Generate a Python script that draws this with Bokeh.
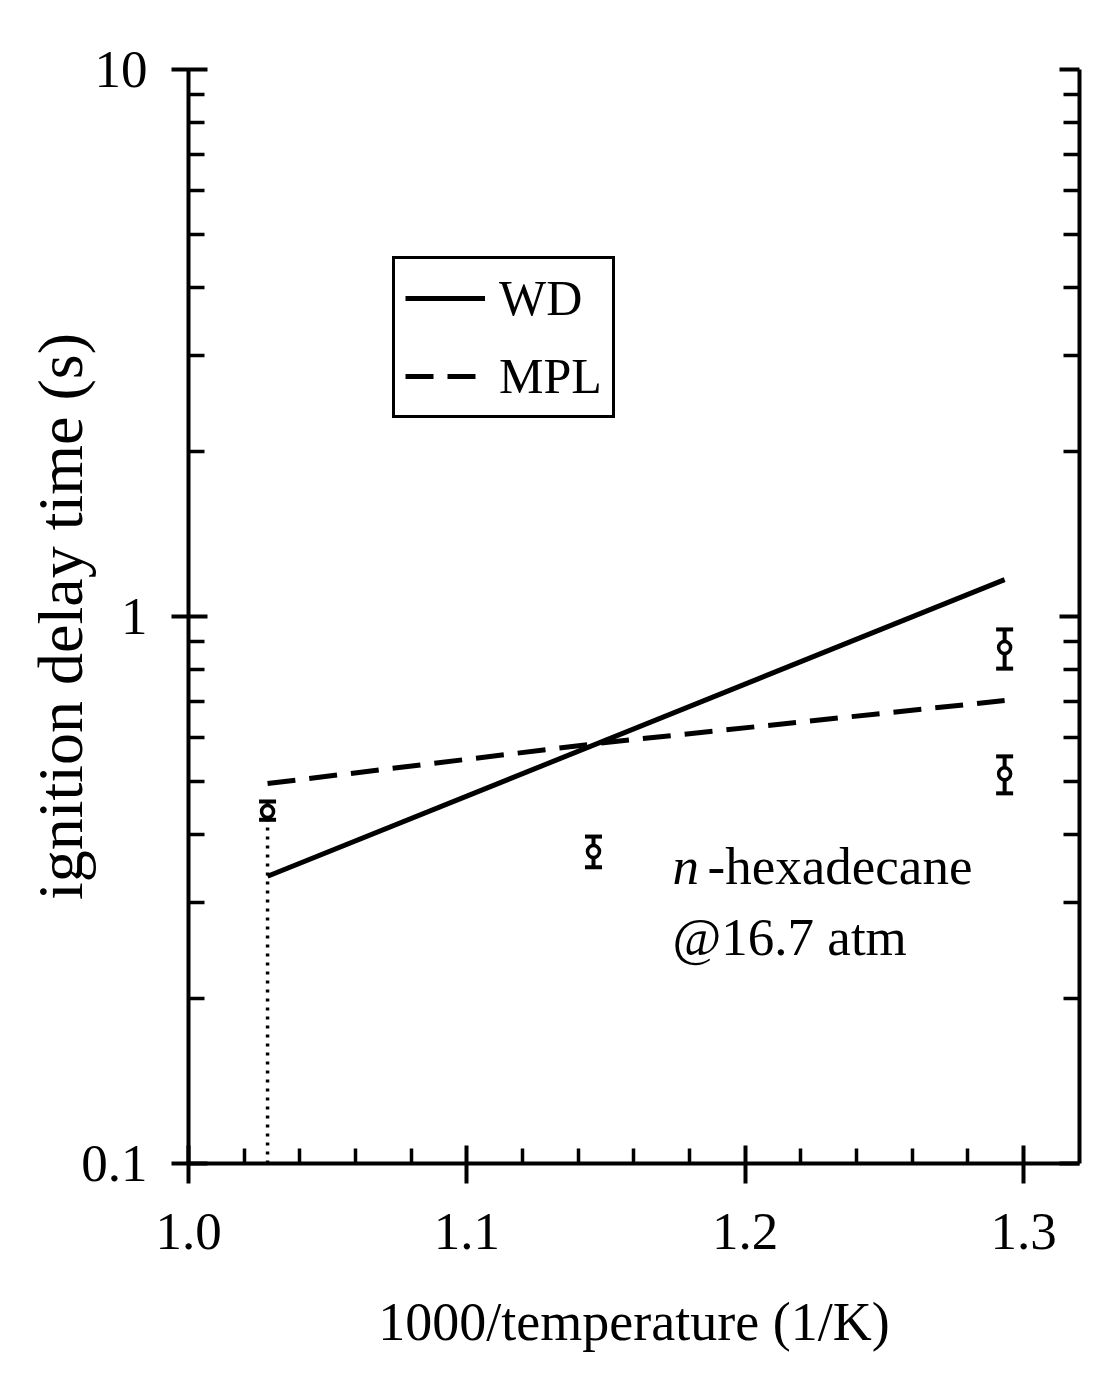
from bokeh.plotting import figure
from bokeh.models import (FixedTicker, LogAxis, CustomJSTickFormatter, Label, Legend,
                          LegendItem, Whisker, TeeHead, ColumnDataSource, Range1d,
                          PrintfTickFormatter)
from bokeh.embed import file_html
from bokeh.resources import INLINE

# ---- data ----
wd_x = [1.0284, 1.2932]
wd_y = [0.335, 1.168]

mpl_x = [1.0284, 1.148, 1.2932]
mpl_y = [0.495, 0.587, 0.702]

exp_x = [1.0284, 1.1455, 1.2932, 1.2932]
exp_y = [0.440, 0.372, 0.878, 0.516]
exp_lo = [0.425, 0.348, 0.803, 0.475]
exp_hi = [0.459, 0.396, 0.947, 0.555]

drop_x = [1.0284, 1.0284]
drop_y = [0.1, 0.425]

x_ticks = [1.0, 1.1, 1.2, 1.3]
x_minor = [1.02, 1.04, 1.06, 1.08, 1.12, 1.14, 1.16, 1.18,
           1.22, 1.24, 1.26, 1.28]
y_ticks = [0.1, 1, 10]
y_minor = [0.2, 0.3, 0.4, 0.5, 0.6, 0.7, 0.8, 0.9,
           2, 3, 4, 5, 6, 7, 8, 9]

FONT = "Liberation Serif"

p = figure(width=1117, height=1383, y_axis_type="log",
           x_range=Range1d(1.0, 1.3201), y_range=Range1d(0.1, 10),
           output_backend="svg", toolbar_location=None,
           min_border_left=188, min_border_right=38,
           min_border_top=69, min_border_bottom=220)
p.outline_line_color = None
p.xgrid.visible = False
p.ygrid.visible = False
p.background_fill_color = "white"
p.border_fill_color = "white"

# bottom axis
xa = p.xaxis[0]
xa.ticker = FixedTicker(ticks=x_ticks, minor_ticks=x_minor)
xa.formatter = PrintfTickFormatter(format="%.1f")
xa.axis_line_width = 4
xa.major_tick_line_width = 4
xa.minor_tick_line_width = 3.5
xa.major_tick_in = 18
xa.major_tick_out = 20
xa.minor_tick_in = 15
xa.minor_tick_out = 0
xa.major_label_text_font = FONT
xa.major_label_text_font_size = "53px"
xa.major_label_text_color = "black"
xa.major_label_standoff = 30
xa.axis_label = "1000/temperature (1/K)"
xa.axis_label_text_font = FONT
xa.axis_label_text_font_size = "54px"
xa.axis_label_text_font_style = "normal"
xa.axis_label_text_color = "black"
xa.axis_label_standoff = 40

# left axis
ya = p.yaxis[0]
ya.ticker = FixedTicker(ticks=y_ticks, minor_ticks=y_minor)
ya.formatter = CustomJSTickFormatter(code="return tick >= 1 ? tick.toFixed(0) : tick.toFixed(1);")
ya.axis_line_width = 4
ya.major_tick_line_width = 4
ya.minor_tick_line_width = 3.5
ya.major_tick_in = 19
ya.major_tick_out = 17
ya.minor_tick_in = 16
ya.minor_tick_out = 0
ya.major_label_text_font = FONT
ya.major_label_text_font_size = "53px"
ya.major_label_text_color = "black"
ya.major_label_standoff = 24
ya.axis_label = "ignition delay time (s)"
ya.axis_label_text_font = FONT
ya.axis_label_text_font_size = "64px"
ya.axis_label_text_font_style = "normal"
ya.axis_label_text_color = "black"
ya.axis_label_standoff = -18

# right axis (ticks only)
ra = LogAxis(ticker=FixedTicker(ticks=y_ticks, minor_ticks=y_minor),
             formatter=CustomJSTickFormatter(code="return '';"))
ra.axis_line_width = 4
ra.major_tick_line_width = 4
ra.minor_tick_line_width = 3.5
ra.major_tick_in = 20
ra.major_tick_out = 0
ra.minor_tick_in = 16
ra.minor_tick_out = 0
ra.major_label_text_font_size = "1px"
p.add_layout(ra, "right")

# lines
wd = p.line(wd_x, wd_y, line_color="black", line_width=5)
mpl = p.line(mpl_x, mpl_y, line_color="black", line_width=5, line_dash="28 14")
p.line(drop_x, drop_y, line_color="black", line_width=3.5, line_dash="3 6")

# experimental data with error bars
src = ColumnDataSource(dict(x=exp_x, y=exp_y, lo=exp_lo, hi=exp_hi))
wh = Whisker(source=src, base="x", upper="hi", lower="lo", dimension="height",
             line_color="black", line_width=4,
             upper_head=TeeHead(size=17, line_width=4, line_color="black"),
             lower_head=TeeHead(size=17, line_width=4, line_color="black"))
p.add_layout(wh)
p.scatter("x", "y", source=src, marker="circle", size=12,
          fill_color="white", line_color="black", line_width=3.5)

# legend
leg = Legend(items=[LegendItem(label="WD", renderers=[wd]),
                    LegendItem(label="MPL", renderers=[mpl])],
             location=(204, 745))
leg.label_text_font = FONT
leg.label_text_font_size = "50px"
leg.label_text_color = "black"
leg.glyph_width = 80
leg.glyph_height = 40
leg.label_standoff = 14
leg.spacing = 20
leg.padding = 10
leg.margin = 0
leg.border_line_color = "black"
leg.border_line_alpha = 1.0
leg.border_line_width = 3
leg.background_fill_color = "white"
leg.background_fill_alpha = 1.0
p.add_layout(leg, "center")

# annotation
p.add_layout(Label(x=1.1739, y=0.350, text="n", text_font=FONT, text_font_size="53px",
                   text_font_style="italic", text_color="black",
                   text_baseline="alphabetic"))
p.add_layout(Label(x=1.1865, y=0.350, text="-hexadecane", text_font=FONT,
                   text_font_size="53px", text_color="black",
                   text_baseline="alphabetic"))
p.add_layout(Label(x=1.1739, y=0.259, text="@16.7 atm", text_font=FONT,
                   text_font_size="53px", text_color="black",
                   text_baseline="alphabetic"))

open("out.html", "w").write(file_html(p, INLINE))
